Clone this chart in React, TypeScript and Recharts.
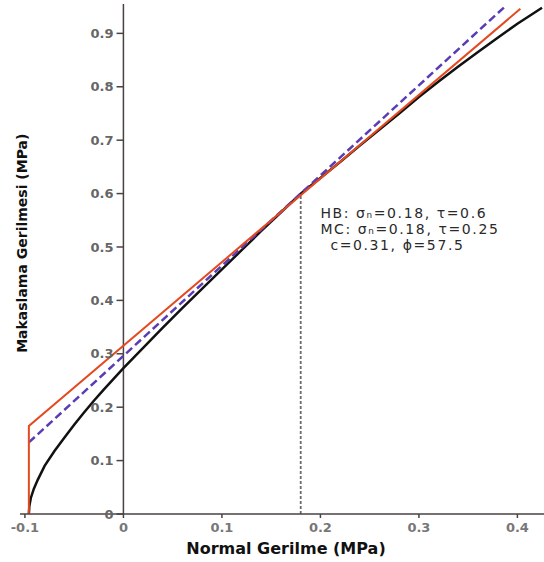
import { LineChart, Line, XAxis, YAxis, ReferenceLine, ReferenceDot } from 'recharts';

// Hoek-Brown envelope
const hbSigma = [-0.096, -0.0955, -0.094, -0.091, -0.087, -0.08, -0.07, -0.06, -0.05, -0.04, -0.03, -0.02, -0.01, 0, 0.02, 0.04, 0.06, 0.08, 0.1, 0.12, 0.14, 0.16, 0.18, 0.2, 0.22, 0.24, 0.26, 0.28, 0.3, 0.32, 0.34, 0.36, 0.38, 0.4, 0.425];
const hbTau = [0, 0.015, 0.03, 0.047, 0.064, 0.09, 0.118, 0.143, 0.167, 0.19, 0.212, 0.233, 0.253, 0.273, 0.311, 0.349, 0.386, 0.422, 0.458, 0.494, 0.53, 0.565, 0.6, 0.629, 0.659, 0.69, 0.72, 0.75, 0.781, 0.81, 0.838, 0.865, 0.892, 0.918, 0.948];

// Mohr-Coulomb line (c=0.31, phi=57.5) with tension cut-off
const mcSigma = [-0.096, -0.096, 0.403];
const mcTau = [0, 0.165, 0.946];

// tangent to HB at sigma_n = 0.18
const tanSigma = [-0.096, 0.389];
const tanTau = [0.134, 0.953];

const xTicks = [-0.1, 0, 0.1, 0.2, 0.3, 0.4];
const yTicks = [0, 0.1, 0.2, 0.3, 0.4, 0.5, 0.6, 0.7, 0.8, 0.9];

const noteLines = ['HB: σₙ=0.18, τ=0.6', 'MC: σₙ=0.18, τ=0.25', 'c=0.31, ϕ=57.5'];

const hbData = hbSigma.map((x, i) => ({ x, y: hbTau[i] }));
const mcData = mcSigma.map((x, i) => ({ x, y: mcTau[i] }));
const tanData = tanSigma.map((x, i) => ({ x, y: tanTau[i] }));

const FONT = '"DejaVu Sans", Verdana, sans-serif';
const AXIS = '#4a4242';
const TICK_TEXT = '#666';

const Annotation = (props: any) => {
  const { x, y } = props.viewBox;
  return (
    <g fontFamily={FONT} fontSize={14} fill="#2a2a2a" letterSpacing={1.6}>
      {noteLines.map((t, i) => (
        <text key={t} x={x + (i === 2 ? 10 : 0)} y={y + i * 16}>
          {t}
        </text>
      ))}
    </g>
  );
};

const YTitle = (props: any) => {
  const { x, y } = props.viewBox;
  return (
    <text
      x={x}
      y={y}
      transform={`rotate(-90, ${x}, ${y})`}
      textAnchor="middle"
      dominantBaseline="central"
      fontFamily={FONT}
      fontWeight="bold"
      fontSize={14}
      fill="#111"
    >
      Makaslama Gerilmesi (MPa)
    </text>
  );
};

export default function App() {
  return (
    <div style={{ position: 'absolute', left: 0, top: 0, background: '#fff' }}>
      <LineChart width={544} height={562} margin={{ top: 4, right: 0, bottom: 0, left: 20 }}>
        <XAxis
          type="number"
          dataKey="x"
          domain={[-0.105, 0.427]}
          ticks={xTicks}
          allowDataOverflow
          height={48}
          tickSize={4}
          tickMargin={5}
          stroke={AXIS}
          strokeWidth={1.5}
          tick={{ fontSize: 13, fontWeight: 'bold', fill: '#777', fontFamily: FONT }}
          tickFormatter={(v) => String(v)}
          label={{
            value: 'Normal Gerilme (MPa)',
            position: 'insideBottom',
            offset: 8,
            dx: 4,
            fontFamily: FONT,
            fontWeight: 'bold',
            fontSize: 16,
            fill: '#111',
          }}
        />
        <YAxis type="number" dataKey="y" domain={[0, 0.955]} allowDataOverflow hide />

        {/* y axis drawn through sigma = 0 */}
        <ReferenceLine x={0} stroke={AXIS} strokeWidth={1.5} />
        {yTicks.map((t) => (
          <ReferenceLine
            key={t}
            segment={[{ x: -0.007, y: t }, { x: 0, y: t }]}
            stroke={AXIS}
            strokeWidth={1.5}
            label={{
              value: String(t),
              position: 'left',
              offset: 3,
              fontSize: 13,
              fontWeight: 'bold',
              fill: TICK_TEXT,
              fontFamily: FONT,
            }}
          />
        ))}

        <ReferenceLine
          segment={[{ x: 0.18, y: 0 }, { x: 0.18, y: 0.6 }]}
          stroke="#6b6b6b"
          strokeWidth={1.8}
          strokeDasharray="3 2"
        />

        <Line
          data={hbData}
          dataKey="y"
          type="linear"
          stroke="#111"
          strokeWidth={2.5}
          dot={false}
          isAnimationActive={false}
        />
        <Line
          data={tanData}
          dataKey="y"
          type="linear"
          stroke="#5a3db5"
          strokeWidth={2.5}
          strokeDasharray="8 4"
          dot={false}
          isAnimationActive={false}
        />
        <Line
          data={mcData}
          dataKey="y"
          type="linear"
          stroke="#e4491f"
          strokeWidth={2}
          dot={false}
          isAnimationActive={false}
        />

        <ReferenceDot x={0.2} y={0.555} r={0} fill="none" stroke="none" label={<Annotation />} />
        <ReferenceDot x={-0.103} y={0.507} r={0} fill="none" stroke="none" label={<YTitle />} />
      </LineChart>
    </div>
  );
}
